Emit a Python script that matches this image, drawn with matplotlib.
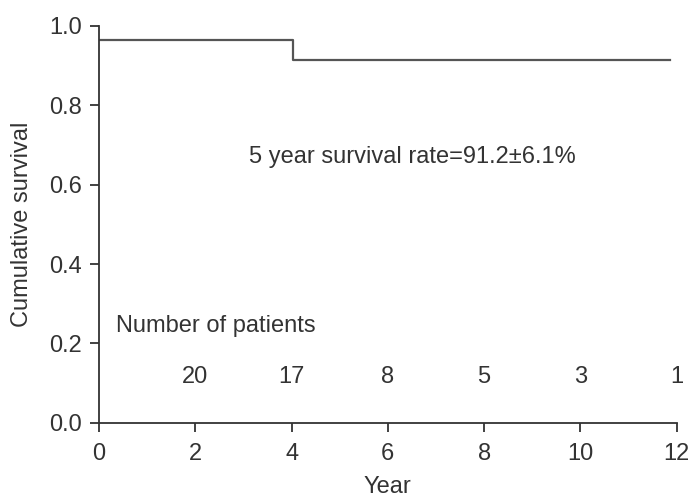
import matplotlib
matplotlib.use("Agg")
import matplotlib.pyplot as plt

plt.rcParams['font.family'] = ['Liberation Sans', 'DejaVu Sans']

# Survival step data
times = [0, 4.03, 11.85]
survival = [0.965, 0.913, 0.913]

# Number at risk
risk_years = [2, 4, 6, 8, 10, 12]
risk_counts = ["20", "17", "8", "5", "3", "1"]

xticks = [0, 2, 4, 6, 8, 10, 12]
yticks = [0.0, 0.2, 0.4, 0.6, 0.8, 1.0]

tc = '#333333'
fs = 17
fig = plt.figure(figsize=(6.92, 4.98), dpi=100)
ax = fig.add_axes([0.143, 0.151, 0.835, 0.797])
ax.step(times, survival, where='post', color='#555555', lw=1.6)
ax.set_xlim(0, 12)
ax.set_ylim(0, 1.0)
ax.set_xticks(xticks)
ax.set_yticks(yticks)
ax.set_yticklabels([f"{v:.1f}" for v in yticks])
for s in ['top', 'right']:
    ax.spines[s].set_visible(False)
for s in ['left', 'bottom']:
    ax.spines[s].set_color('#333333')
    ax.spines[s].set_linewidth(1.3)
ax.tick_params(direction='out', length=6.5, width=1.3, colors='#333333', labelsize=fs, labelcolor=tc)
ax.tick_params(axis='x', pad=8)
ax.tick_params(axis='y', pad=6)
ax.set_xlabel("Year", fontsize=fs, color=tc, labelpad=8)
ax.set_ylabel("Cumulative survival", fontsize=fs, color=tc, labelpad=11)

ax.text(6.5, 0.67, "5 year survival rate=91.2\u00b16.1%", fontsize=fs, color=tc, ha='center', va='center')
ax.text(0.35, 0.245, "Number of patients", fontsize=fs, color=tc, ha='left', va='center')
for x, c in zip(risk_years, risk_counts):
    ax.text(x, 0.115, c, fontsize=fs, color=tc, ha='center', va='center')

fig.savefig("out.png", dpi=100)
